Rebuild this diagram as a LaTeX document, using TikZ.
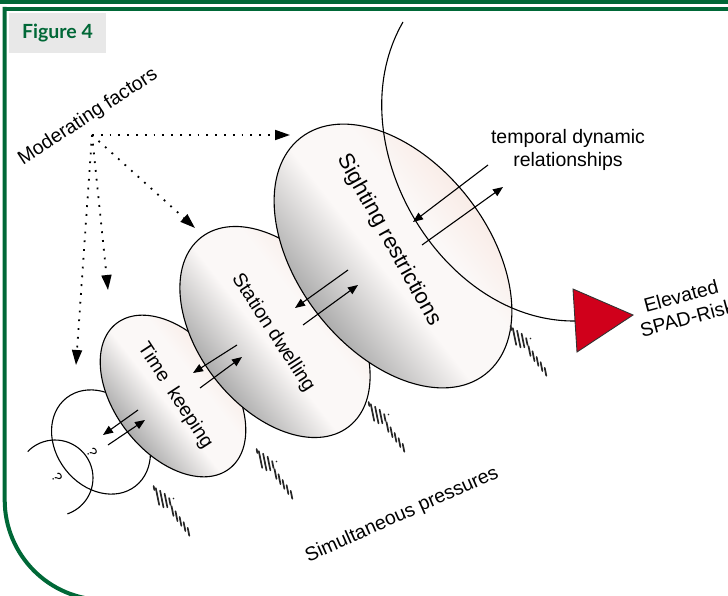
\documentclass[tikz,border=0pt]{standalone}
\usepackage{fontspec}
\setmainfont{Liberation Sans}
\newfontfamily\tabfont{Lato}
\usetikzlibrary{arrows.meta,shapes.geometric}

\definecolor{jgreen}{RGB}{0,104,55}
\definecolor{tabgray}{RGB}{232,232,232}
\definecolor{riskred}{RGB}{208,0,27}
\definecolor{shgray}{RGB}{172,172,172}
\definecolor{shmid}{RGB}{251,248,247}
\definecolor{shpink}{RGB}{249,236,231}

% grey on the lower side, near white in the middle, a pink tint on the upper side
\pgfdeclareverticalshading{stageshade}{100bp}{color(0bp)=(shgray); color(25bp)=(shgray);
  color(46bp)=(shmid); color(62bp)=(shmid); color(75bp)=(shpink); color(100bp)=(shpink)}

\tikzset{
  lbl/.style={font=\fontsize{19.5}{23}\selectfont, inner sep=0pt},
  qmark/.style={font=\fontsize{14}{16}\selectfont, inner sep=0pt, rotate=-60},
  blob/.style={ellipse, draw=black, line width=1.1pt, inner sep=0pt, shading=stageshade},
  ring/.style={draw=black, line width=1.1pt},
  thinline/.style={draw=black, line width=1.1pt},
  dar/.style={line width=1.1pt, -{Triangle[length=10pt,width=8pt]}},
  dotarrow/.style={line width=1.8pt, dash pattern=on 1.8pt off 7pt,
    -{Triangle[length=15pt,width=10pt]}},
  % a hatched arrow pointing up-left, origin at its tip;
  % each stripe is given by its centre and its length
  pics/press/.style={code={
    \foreach \cx/\cy/\len in {2/4/4, 5.5/12.5/17, 9.8/15/17, 14/16.5/14, 17.8/17.5/7,
        20.5/27/10, 24.5/32.2/10, 28.5/37.4/9, 32.5/42.6/9, 36.5/47.8/8}{
      \draw[line width=1.7pt, black!85, line cap=round]
        ({\cx-0.1*\len},{\cy-0.49*\len}) -- ({\cx+0.1*\len},{\cy+0.49*\len});
    }
    \fill[black!85] (21.5,14.5) circle (0.9pt);
  }}
}

\begin{document}
\begin{tikzpicture}[x=1pt,y=-1pt]
\useasboundingbox (0,0) rectangle (728,596);

% page frame
\fill[jgreen] (0,0) rectangle (728,4);
\draw[jgreen, line width=4pt] (2.7,8.8) -- (728,8.8);
\draw[jgreen, line width=4pt, rounded corners=100pt] (4.7,7) -- (4.7,600) -- (400,600);

% figure tab
\node[fill=tabgray, minimum width=97pt, minimum height=40pt, inner sep=0pt,
      font=\tabfont\bfseries\fontsize{19.5}{22}\selectfont, text=jgreen] (tab) at (57.5,33) {Figure 4};

% faint earlier stages
\node[ellipse, ring, minimum width=112pt, minimum height=90pt, rotate=-52] (ringa) at (101,442) {};
\coordinate (ringbc) at (55,478);
\draw[ring] (ringbc) ++(224:38) arc[start angle=224, end angle=431, radius=38];
\node[qmark] (qa) at (92,452) {?};
\node[qmark] (qb) at (57,477) {?};

% the three stages, each drawn in its own tilted frame
\begin{scope}[transform canvas={shift={(173,396)}, rotate=-52}]
  \node[blob, minimum width=184pt, minimum height=116pt] (tk) at (0,0) {};
\end{scope}
\begin{scope}[transform canvas={shift={(275,332)}, rotate=-52}]
  \node[blob, minimum width=240pt, minimum height=152pt] (sd) at (0,0) {};
\end{scope}
\begin{scope}[transform canvas={shift={(393,256)}, rotate=-52}]
  \node[blob, minimum width=300pt, minimum height=190pt] (sr) at (0,0) {};
\end{scope}

\node[lbl, rotate=-57] (tkl) at (175,396) {Time\ \ keeping};
\node[lbl, rotate=-57] (sdl) at (273,333) {Station dwelling};
\node[lbl, rotate=-61, font=\fontsize{22}{26}\selectfont] (srl) at (389,240) {Sighting restrictions};

% red risk marker and the loop leading to it
\coordinate (loopstart) at (403,22);
\coordinate (riskin) at (575,321);
\filldraw[fill=riskred, draw=black!80, line width=0.9pt] (573,289) -- (633,315) -- (577,352) -- cycle;
\draw[thinline] (loopstart) .. controls (335,140) and (440,322) .. (riskin);

% two-way links between neighbouring stages
\coordinate (a1s) at (138,410); \coordinate (a1e) at (103,435);
\coordinate (a2s) at (108,445); \coordinate (a2e) at (145,420);
\coordinate (b1s) at (237,345); \coordinate (b1e) at (193,373);
\coordinate (b2s) at (200,388); \coordinate (b2e) at (242,357);
\coordinate (c1s) at (348,270); \coordinate (c1e) at (295,308);
\coordinate (c2s) at (303,325); \coordinate (c2e) at (358,285);
\coordinate (d1s) at (488,165); \coordinate (d1e) at (413,222);
\coordinate (d2s) at (422,245); \coordinate (d2e) at (503,187);
\foreach \p in {a,b,c,d}{
  \draw[dar] (\p1s) -- (\p1e);
  \draw[dar] (\p2s) -- (\p2e);
}

% moderating factors
\node[lbl, rotate=33] (mod) at (88,117) {Moderating factors};
\coordinate (src) at (92,135);
\coordinate (m1) at (290,135);
\coordinate (m2) at (195,228);
\coordinate (m3) at (108,290);
\coordinate (m4) at (76,365);
\draw[dotarrow] (src) -- (m1);
\draw[dotarrow] (src) -- (m2);
\draw[dotarrow] (src) -- (m3);
\draw[dotarrow] (src) -- (m4);

% simultaneous pressures
\pic at (152,484) {press};
\pic at (255,447) {press};
\pic at (367,400) {press};
\pic at (509,324) {press};
\node[lbl, rotate=24] (sim) at (402,515) {Simultaneous pressures};

% other labels
\node[lbl, align=center] (tdr) at (568,150) {temporal dynamic\\relationships};
\node[lbl, align=center, rotate=15] (risk) at (684,307) {Elevated\\SPAD-Risk};
\end{tikzpicture}
\end{document}
